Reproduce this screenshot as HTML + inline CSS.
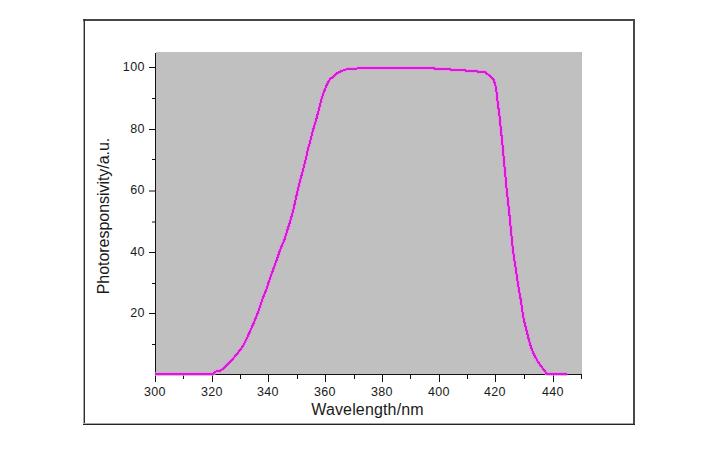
<!DOCTYPE html>
<html><head><meta charset="utf-8"><style>
html,body{margin:0;padding:0;background:#fff;width:726px;height:450px;overflow:hidden}
body{position:relative;font-family:"Liberation Sans",sans-serif;color:#1a1a1a}
svg{position:absolute;left:0;top:0}
.xl{position:absolute;width:60px;text-align:center;font-size:12.5px;line-height:15px;letter-spacing:0.4px;text-indent:0.4px}
.yl{position:absolute;width:40px;text-align:right;font-size:12.5px;line-height:15px;letter-spacing:0.4px}
.xt{position:absolute;left:267.5px;top:401px;width:200px;text-align:center;font-size:16px;line-height:18px;letter-spacing:0.15px}
.yt{position:absolute;left:104px;top:215.6px;width:0;height:0}
.yt span{position:absolute;left:-100px;top:-9px;width:200px;text-align:center;font-size:16px;line-height:18px;transform:rotate(-90deg);white-space:nowrap;letter-spacing:-0.04px}
</style></head><body>
<svg width="726" height="450" viewBox="0 0 726 450">
<rect x="83" y="19" width="552" height="2" fill="#464646"/>
<rect x="83" y="21" width="1" height="403" fill="#a8a8a8"/>
<rect x="84" y="19" width="1" height="406" fill="#2c2c2c"/>
<rect x="633" y="19" width="2" height="406" fill="#484848"/>
<rect x="84" y="423" width="549" height="1" fill="#a8a8a8"/>
<rect x="83" y="424" width="552" height="1" fill="#242424"/>
<rect x="156" y="52" width="426" height="322" fill="#c0c0c0"/>
<rect x="155" y="53" width="1" height="322" fill="#111"/>
<rect x="155" y="374" width="427" height="1" fill="#111"/>
<rect x="155" y="375" width="1" height="7" fill="#111"/>
<rect x="183" y="375" width="1" height="4" fill="#111"/>
<rect x="212" y="375" width="1" height="7" fill="#111"/>
<rect x="240" y="375" width="1" height="4" fill="#111"/>
<rect x="268" y="375" width="1" height="7" fill="#111"/>
<rect x="297" y="375" width="1" height="4" fill="#111"/>
<rect x="325" y="375" width="1" height="7" fill="#111"/>
<rect x="354" y="375" width="1" height="4" fill="#111"/>
<rect x="382" y="375" width="1" height="7" fill="#111"/>
<rect x="410" y="375" width="1" height="4" fill="#111"/>
<rect x="439" y="375" width="1" height="7" fill="#111"/>
<rect x="467" y="375" width="1" height="4" fill="#111"/>
<rect x="495" y="375" width="1" height="7" fill="#111"/>
<rect x="524" y="375" width="1" height="4" fill="#111"/>
<rect x="553" y="375" width="1" height="7" fill="#111"/>
<rect x="581" y="375" width="1" height="4" fill="#111"/>
<rect x="152" y="344" width="3" height="1" fill="#111"/>
<rect x="149" y="313" width="6" height="1" fill="#111"/>
<rect x="152" y="283" width="3" height="1" fill="#111"/>
<rect x="149" y="252" width="6" height="1" fill="#111"/>
<rect x="152" y="221.5" width="3" height="1" fill="#111"/>
<rect x="149" y="190.5" width="6" height="1" fill="#111"/>
<rect x="152" y="159" width="3" height="1" fill="#111"/>
<rect x="149" y="129" width="6" height="1" fill="#111"/>
<rect x="152" y="98" width="3" height="1" fill="#111"/>
<rect x="149" y="67" width="6" height="1" fill="#111"/>
<polyline points="155,374 213.4,374 215.2,371.6 220.6,370.7 222.8,368.9 228.1,363.6 233.4,358.2 237.9,352.9 241.4,348.4 244.1,344 246.1,340 250.6,330 255,320 258.9,310 262.1,300 266.1,290 269.4,280 273,270 276.7,260 280,250 284.4,240 287.4,230 290.6,220 293.3,210 295.5,200 297.8,190 300.3,180 303,170 305.6,160 307.7,150 310.6,140 313.1,130 316.1,120 318.7,110 321.3,100 323.1,94 325.3,88.6 327.5,83.3 330.2,78.9 333.7,76.6 337.3,73.1 341.7,70.9 345.9,69.6 349.2,68.8 356.9,68.7 357.5,68 434,68 434.5,69 450,69 450.5,70 465,70 465.5,71 477,71 477.5,71.8 485.3,71.8 487.5,74.2 491.1,76.9 493.7,80 495.1,84.4 496.4,90.6 497.4,100 498.7,110 500,120 500.9,130 502,140 503,150 503.9,160 504.8,170 505.8,180 506.7,190 507.9,200 508.9,210 510,220 510.9,230 511.9,240 512.9,250 514.4,260 515.9,270 517.4,280 518.9,290 520.8,300 522.2,310 523.9,320 526.4,330 528.9,340 531.2,348 533.9,354.2 537.4,360.9 541.4,366.6 544.5,370.6 546.7,373.6 567.3,374" fill="none" stroke="#f288f2" stroke-width="3.6" stroke-linejoin="round"/>
<polyline points="155,374 213.4,374 215.2,371.6 220.6,370.7 222.8,368.9 228.1,363.6 233.4,358.2 237.9,352.9 241.4,348.4 244.1,344 246.1,340 250.6,330 255,320 258.9,310 262.1,300 266.1,290 269.4,280 273,270 276.7,260 280,250 284.4,240 287.4,230 290.6,220 293.3,210 295.5,200 297.8,190 300.3,180 303,170 305.6,160 307.7,150 310.6,140 313.1,130 316.1,120 318.7,110 321.3,100 323.1,94 325.3,88.6 327.5,83.3 330.2,78.9 333.7,76.6 337.3,73.1 341.7,70.9 345.9,69.6 349.2,68.8 356.9,68.7 357.5,68 434,68 434.5,69 450,69 450.5,70 465,70 465.5,71 477,71 477.5,71.8 485.3,71.8 487.5,74.2 491.1,76.9 493.7,80 495.1,84.4 496.4,90.6 497.4,100 498.7,110 500,120 500.9,130 502,140 503,150 503.9,160 504.8,170 505.8,180 506.7,190 507.9,200 508.9,210 510,220 510.9,230 511.9,240 512.9,250 514.4,260 515.9,270 517.4,280 518.9,290 520.8,300 522.2,310 523.9,320 526.4,330 528.9,340 531.2,348 533.9,354.2 537.4,360.9 541.4,366.6 544.5,370.6 546.7,373.6 567.3,374" fill="none" stroke="#cc22cc" stroke-width="2" stroke-linejoin="round" shape-rendering="crispEdges"/>
</svg>
<div class="xl" style="left:124.75px;top:385px">300</div>
<div class="xl" style="left:181.75px;top:385px">320</div>
<div class="xl" style="left:237.75px;top:385px">340</div>
<div class="xl" style="left:294.75px;top:385px">360</div>
<div class="xl" style="left:351.75px;top:385px">380</div>
<div class="xl" style="left:408.75px;top:385px">400</div>
<div class="xl" style="left:464.75px;top:385px">420</div>
<div class="xl" style="left:522.75px;top:385px">440</div>
<div class="yl" style="left:104.9px;top:306.0px">20</div>
<div class="yl" style="left:104.9px;top:245.0px">40</div>
<div class="yl" style="left:104.9px;top:183.0px">60</div>
<div class="yl" style="left:104.9px;top:122.0px">80</div>
<div class="yl" style="left:104.9px;top:60.0px">100</div>
<div class="xt">Wavelength/nm</div>
<div class="yt"><span>Photoresponsivity/a.u.</span></div>
</body></html>
